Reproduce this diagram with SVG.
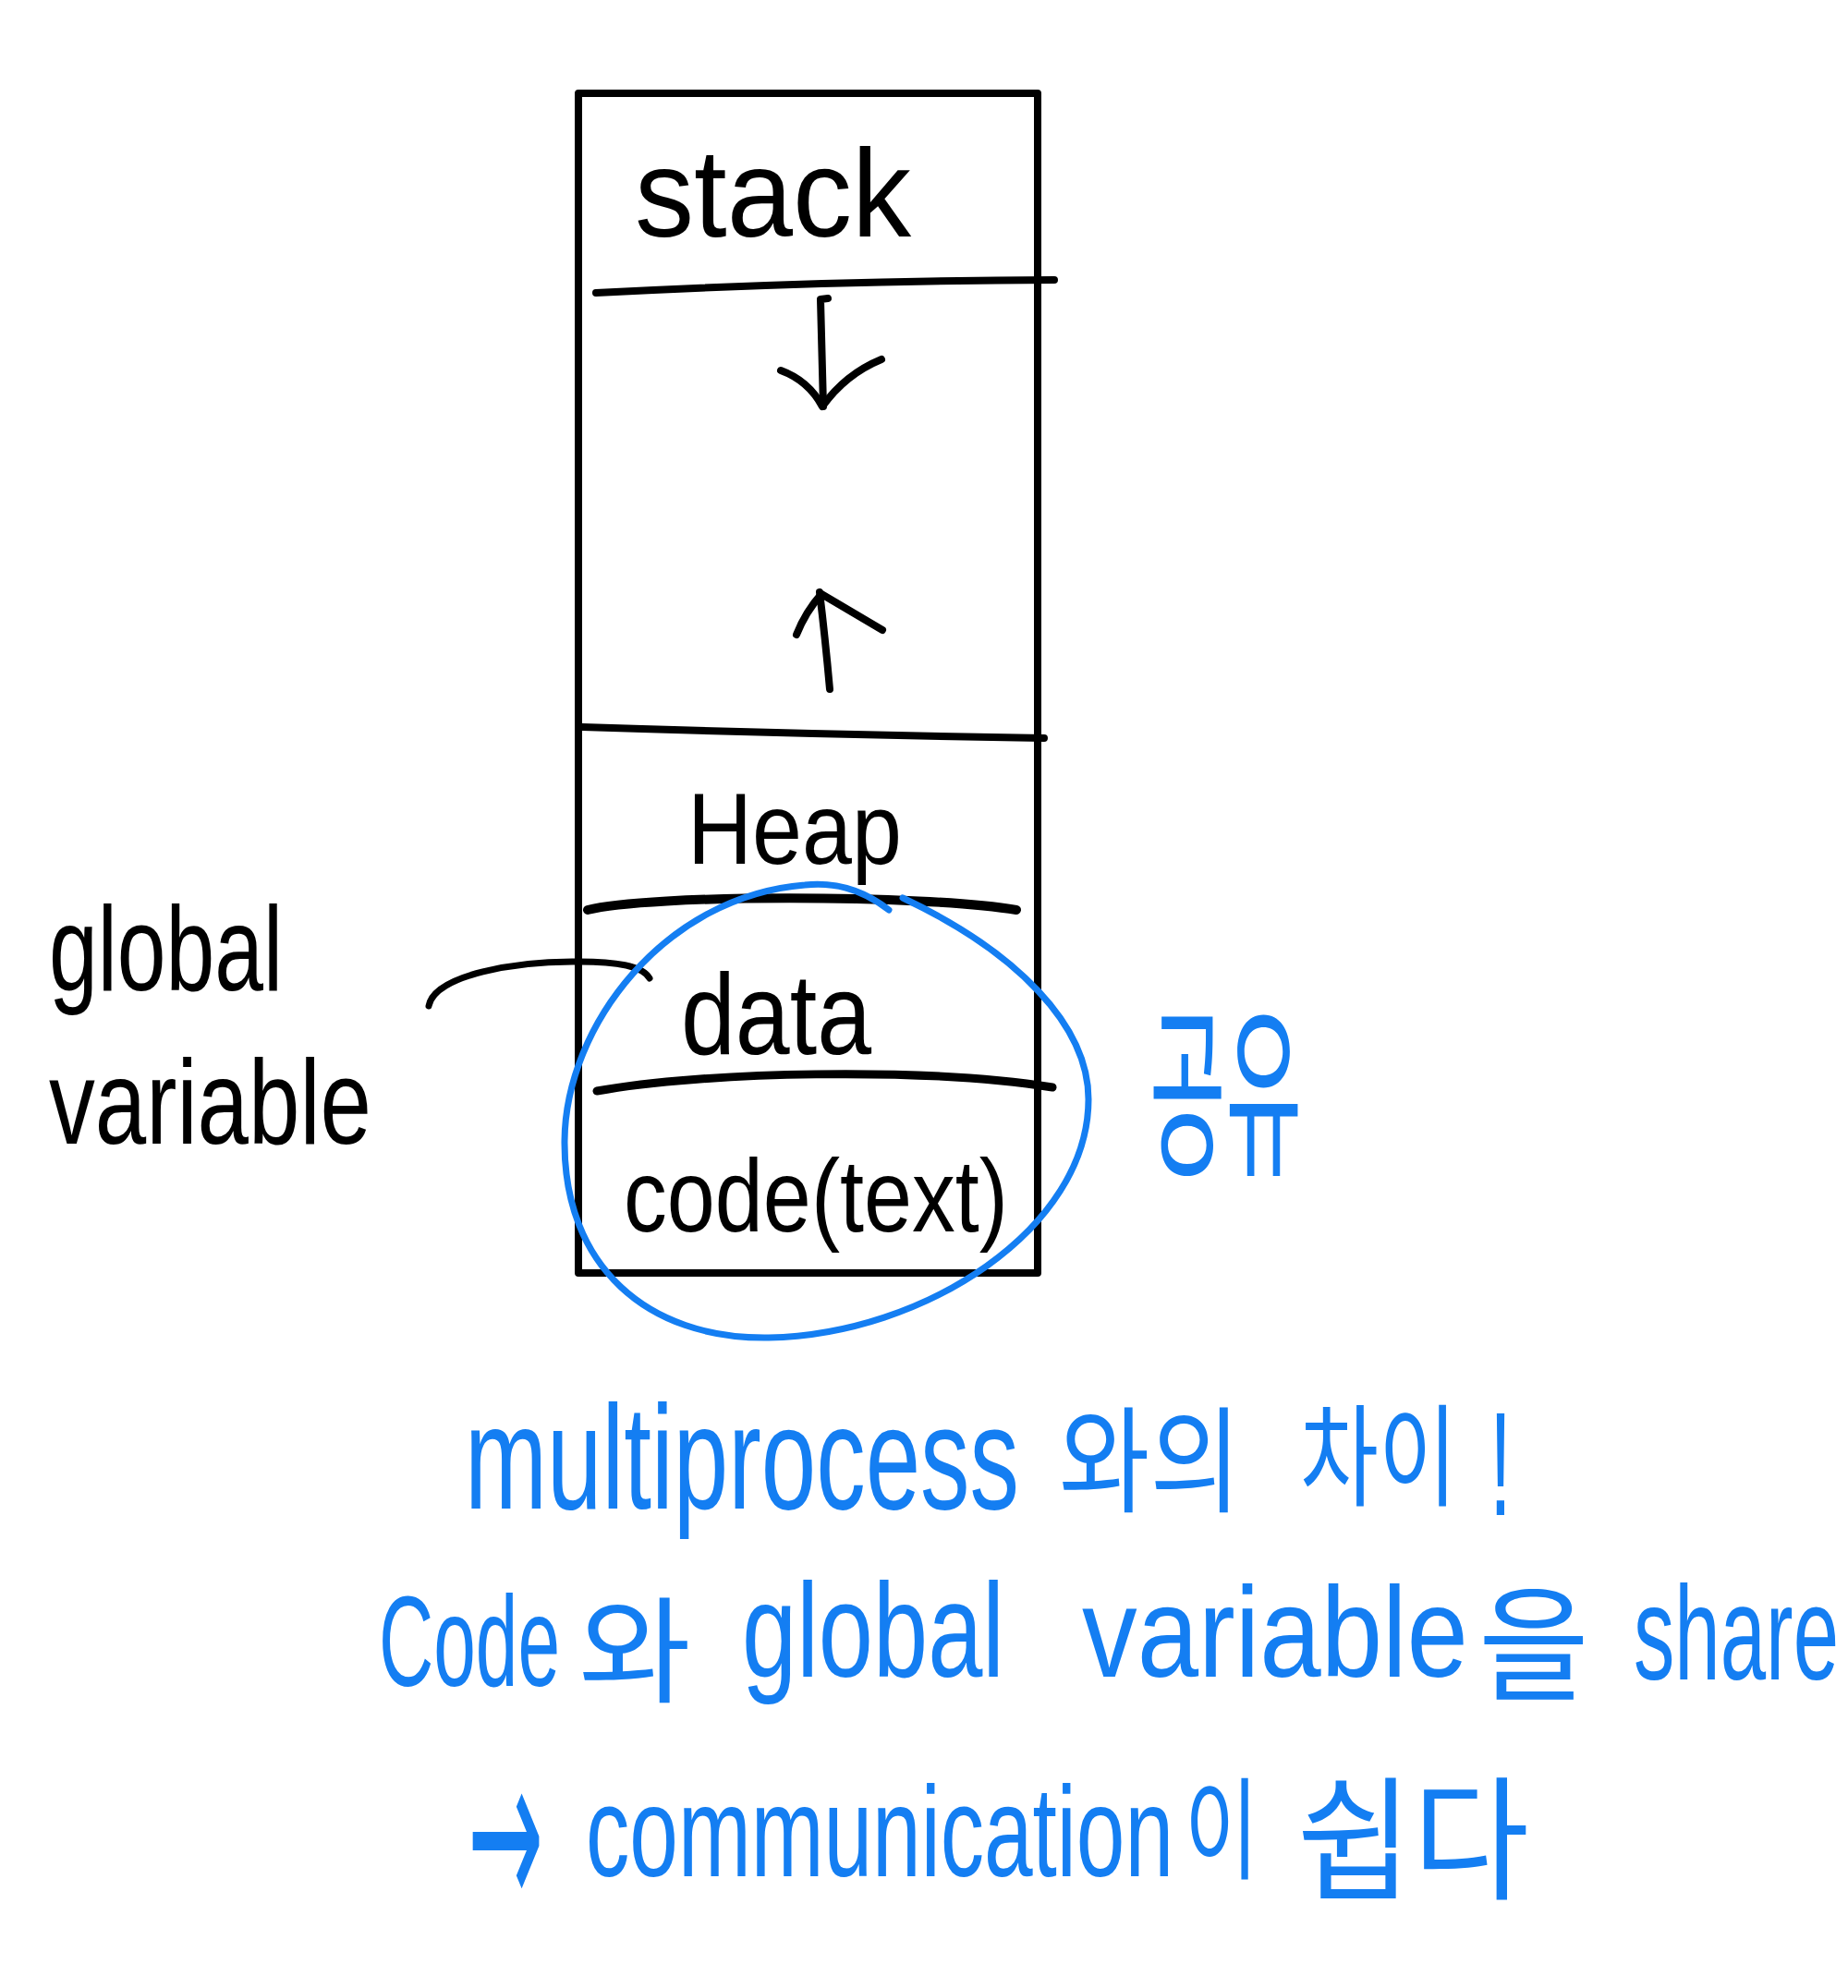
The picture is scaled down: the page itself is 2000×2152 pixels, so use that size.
<svg xmlns="http://www.w3.org/2000/svg" width="2000" height="2152" viewBox="0 0 2000 2152">
<style>
.ink{fill:none;stroke:#000;stroke-linecap:round;stroke-linejoin:round}
.blue{fill:none;stroke:#147EF2;stroke-linecap:round;stroke-linejoin:round}
.bt{font-family:"Liberation Sans",Arial,sans-serif;fill:#000}
.lt{font-family:"Liberation Sans",Arial,sans-serif;fill:#147EF2}
.at{font-family:"DejaVu Sans",sans-serif;fill:#147EF2}
.kt{font-family:"Noto Sans CJK KR","Noto Sans",sans-serif;fill:#147EF2}
</style>
<rect width="2000" height="2152" fill="#fff"/>
<g id="memory-box">
<rect class="ink" x="626" y="101" width="497" height="1277" stroke-width="8"/>
</g>
<g id="stack">
<text class="bt" x="687" y="256" font-size="135" textLength="299" lengthAdjust="spacingAndGlyphs">stack</text>
<path class="ink" stroke-width="8" d="M645 317 Q890 304 1141 303"/>
<path class="ink" stroke-width="8" d="M896 323 L888 324 L891 440"/>
<path class="ink" stroke-width="8" d="M845 401 Q875 412 890 440 Q915 405 954 389"/>
</g>
<g id="free-space">
<path class="ink" stroke-width="8" d="M898 746 Q893 690 887 641"/>
<path class="ink" stroke-width="8" d="M862 687 Q872 662 889 643 L955 682"/>
<path class="ink" stroke-width="8" d="M630 787 Q880 795 1130 799"/>
</g>
<g id="heap">
<text class="bt" x="744" y="935" font-size="110" textLength="232" lengthAdjust="spacingAndGlyphs">Heap</text>
<path class="ink" stroke-width="10" d="M636 985 C700 968 1000 968 1100 985"/>
</g>
<g id="data">
<text class="bt" x="737" y="1141" font-size="125" textLength="206" lengthAdjust="spacingAndGlyphs">data</text>
<path class="ink" stroke-width="9" d="M646 1181 C760 1160 1000 1155 1139 1177"/>
</g>
<g id="code">
<text class="bt" x="675" y="1333" font-size="112" textLength="416" lengthAdjust="spacingAndGlyphs">code(text)</text>
</g>
<g id="global-variable">
<text class="bt" x="53" y="1072" font-size="130" textLength="253" lengthAdjust="spacingAndGlyphs">global</text>
<text class="bt" x="53" y="1238" font-size="130" textLength="349" lengthAdjust="spacingAndGlyphs">variable</text>
</g>
<g id="shared">
<text class="kt" x="1244" y="1257" font-size="200" textLength="165" lengthAdjust="spacingAndGlyphs">공유</text>
</g>
<g id="connectors">
<path class="ink" stroke-width="7" d="M464 1089 C470 1055 560 1040 627 1041 C665 1041 695 1045 703 1059"/>
<path class="blue" stroke-width="7" d="M962 985 C930 960 900 955 871 958 C720 970 612 1110 611 1235 C610 1370 700 1450 832 1448 C1000 1445 1178 1330 1178 1190 C1178 1110 1100 1030 977 972"/>
</g>
<g id="note">
<text class="lt" x="503" y="1633" font-size="160" textLength="600" lengthAdjust="spacingAndGlyphs">multiprocess</text>
<text class="kt" x="1146" y="1627" font-size="125" textLength="197" lengthAdjust="spacingAndGlyphs">와의</text>
<text class="kt" x="1407" y="1621" font-size="120" textLength="170" lengthAdjust="spacingAndGlyphs">차이</text>
<text class="lt" x="1612" y="1640" font-size="160" textLength="24" lengthAdjust="spacingAndGlyphs">!</text>
<text class="lt" x="410" y="1825" font-size="140" textLength="196" lengthAdjust="spacingAndGlyphs">Code</text>
<text class="kt" x="626" y="1833" font-size="125" textLength="122" lengthAdjust="spacingAndGlyphs">와</text>
<text class="lt" x="803" y="1815" font-size="145" textLength="284" lengthAdjust="spacingAndGlyphs">global</text>
<text class="lt" x="1171" y="1815" font-size="140" textLength="418" lengthAdjust="spacingAndGlyphs">variable</text>
<text class="kt" x="1600" y="1830" font-size="135" textLength="120" lengthAdjust="spacingAndGlyphs">을</text>
<text class="lt" x="1768" y="1818" font-size="145" textLength="222" lengthAdjust="spacingAndGlyphs">share</text>
<text class="at" x="506" y="2068" font-size="240" textLength="82" lengthAdjust="spacingAndGlyphs">→</text>
<text class="lt" x="634" y="2031" font-size="140" textLength="636" lengthAdjust="spacingAndGlyphs">communication</text>
<text class="kt" x="1282" y="2025" font-size="120" textLength="80" lengthAdjust="spacingAndGlyphs">이</text>
<text class="kt" x="1403" y="2045" font-size="145" textLength="252" lengthAdjust="spacingAndGlyphs">쉽다</text>
</g>
</svg>
